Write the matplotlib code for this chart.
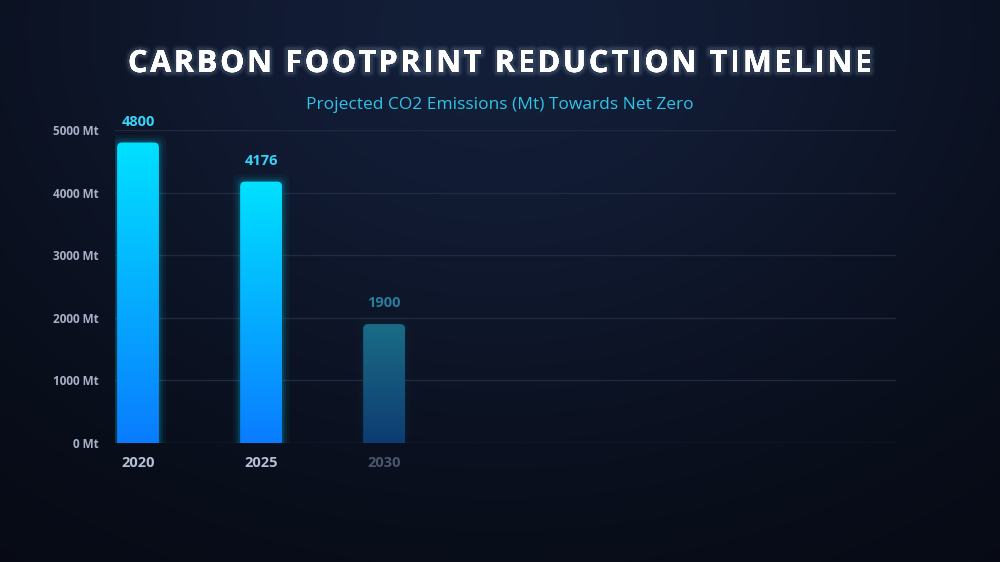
import numpy as np
import matplotlib
matplotlib.use('Agg')
import matplotlib.pyplot as plt
from matplotlib.patches import FancyBboxPatch
import matplotlib.patheffects as pe

years = ['2020', '2025', '2030']
emissions = [4800, 4176, 1900]
visible = [1.0, 1.0, 0.35]   # 2030 bar is still fading in
yticks = [0, 1000, 2000, 3000, 4000, 5000]
ytick_labels = ['%d Mt' % v for v in yticks]

title = 'CARBON FOOTPRINT REDUCTION TIMELINE'
subtitle = 'Projected CO2 Emissions (Mt) Towards Net Zero'

plt.rcParams['font.family'] = ['Open Sans', 'DejaVu Sans']

fig = plt.figure(figsize=(10, 5.62), dpi=100)
W, H = 1000, 562

# background: navy glow at top centre, fading to near black
bg = fig.add_axes([0, 0, 1, 1])
gx, gy = np.meshgrid(np.linspace(0, 1, 400), np.linspace(0, 1, 225))
w = np.exp(-(((gx - 0.5) / 0.55) ** 2 + ((gy - 0.05) / 0.75) ** 2))
inner = np.array([0x13, 0x1e, 0x38]) / 255
outer = np.array([0x06, 0x09, 0x12]) / 255
img = outer[None, None, :] * (1 - w[..., None]) + inner[None, None, :] * w[..., None]
bg.imshow(img, aspect='auto', extent=[0, 1, 0, 1], origin='upper')
bg.axis('off')

ax = fig.add_axes([0.115, 0.2117, 0.781, 0.557])
ax.set_facecolor('none')
x = np.arange(len(years))
ax.set_xlim(-0.187, 6.16)
ax.set_ylim(0, 5000)

for v in yticks:
    ax.axhline(v, color='#1f2a3f', lw=1.0, zorder=1)

bw = 0.34
# mutation aspect so rounded corners look circular in pixels
asp = (5000 / 313.0) / (1 / 123.0)
grad = np.linspace(0, 1, 256)[:, None]
top_c = np.array([0x00, 0xe1, 0xff]) / 255
bot_c = np.array([0x0a, 0x7c, 0xff]) / 255
dim_top = np.array([0x1a, 0x6c, 0x85]) / 255
dim_bot = np.array([0x0d, 0x3c, 0x72]) / 255

for i, (yr, val, vis) in enumerate(zip(years, emissions, visible)):
    if vis < 1:
        tc, bc = dim_top, dim_bot
        lc = '#2a7c9c'
    else:
        tc, bc = top_c, bot_c
        lc = '#35d4f8'
    # glow
    for k, a in [(0.06, 0.05), (0.035, 0.08), (0.018, 0.11)]:
        g = FancyBboxPatch((i - bw / 2 - k, -300), bw + 2 * k, val + 300 + k * asp,
                           boxstyle='round,pad=0,rounding_size=0.06',
                           mutation_aspect=asp, fc=tc, ec='none', alpha=a * vis, zorder=2)
        ax.add_patch(g)
    patch = FancyBboxPatch((i - bw / 2, -300), bw, val + 300,
                           boxstyle='round,pad=0,rounding_size=0.04',
                           mutation_aspect=asp, fc='none', ec='none', zorder=3)
    ax.add_patch(patch)
    col = tc[None, None, :] * (1 - grad[..., None]) + bc[None, None, :] * grad[..., None]
    im = ax.imshow(col, aspect='auto', extent=[i - bw / 2, i + bw / 2, 0, val],
                   origin='upper', zorder=3)
    im.set_clip_path(patch)
    ax.text(i, val + 330, str(val), ha='center', va='center', fontsize=10.5,
            fontweight='bold', color=lc, zorder=4, clip_on=False)

ax.set_xticks(x)
ax.set_xticklabels(years, fontsize=10.5, fontweight='bold', color='#b7bfd6')
ax.get_xticklabels()[2].set_color('#4a556b')
ax.set_yticks(yticks)
ax.set_yticklabels(ytick_labels, fontsize=8.5, fontweight='bold', color='#a8b0c6')
ax.tick_params(axis='y', length=0, pad=12)
ax.tick_params(axis='x', length=0, pad=9)
for s in ax.spines.values():
    s.set_visible(False)
ax.grid(False)


def spaced_text(s, xc, y_base, total_w, **kw):
    # draw a string one character at a time to get wide letter spacing
    r = fig.canvas.get_renderer()

    def width(t):
        tt = fig.text(0, 0, t, **kw)
        wd = tt.get_window_extent(r).width
        tt.remove()
        return wd

    bar_w = width('|')
    lefts = [width(s[:k] + '|') - bar_w if k else 0.0 for k in range(len(s))]
    natural = width(s)
    extra = (total_w - natural) / (len(s) - 1)
    x0 = xc - total_w / 2
    for k, ch in enumerate(s):
        if ch == ' ':
            continue
        fig.text((x0 + lefts[k] + k * extra) / W, y_base, ch, ha='left', va='baseline', **kw)


glow = [pe.withStroke(linewidth=7, foreground=(0.7, 0.85, 1.0, 0.06)),
        pe.withStroke(linewidth=4, foreground=(0.8, 0.9, 1.0, 0.10)),
        pe.Normal()]
spaced_text(title, 500, 1 - 72 / H, 744, fontsize=22, fontweight='bold',
            color='white', path_effects=glow)
fig.text(0.5, 1 - 109 / H, subtitle, ha='center', va='baseline', fontsize=12.5,
         color='#2fc3e8')

fig.savefig('out.png', dpi=100)
